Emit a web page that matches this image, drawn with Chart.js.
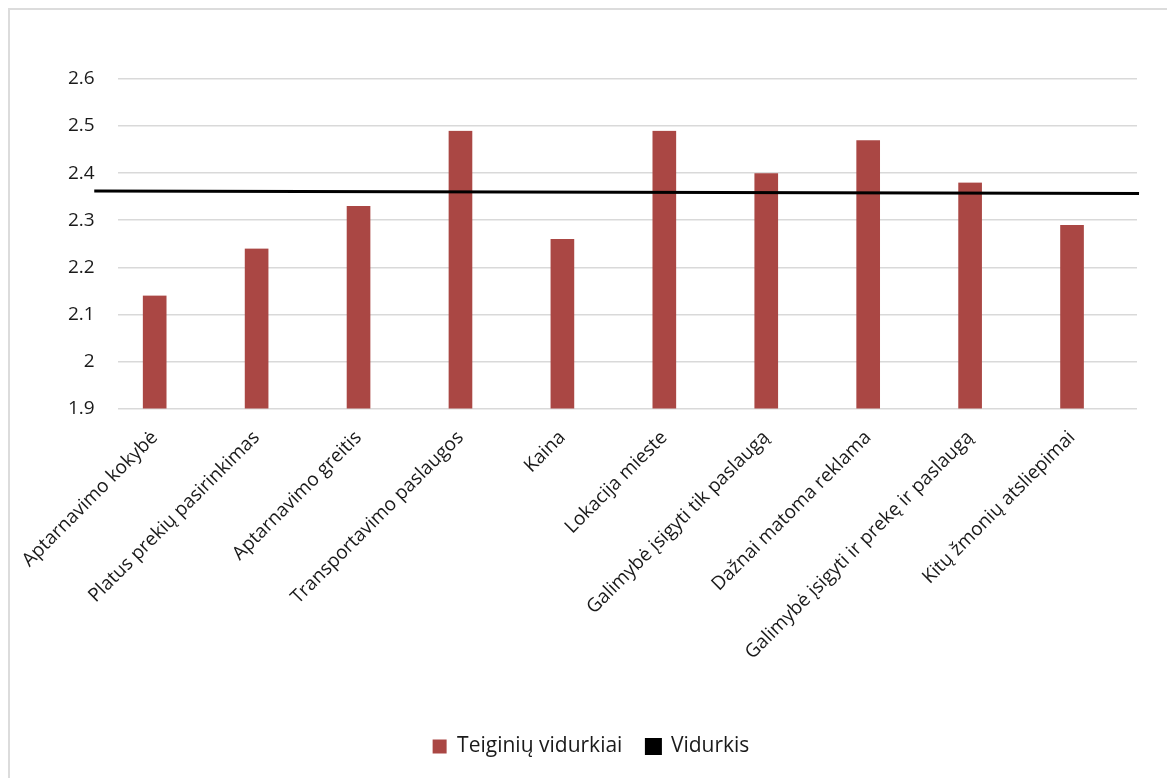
<!DOCTYPE html>
<html>
<head>
<meta charset="utf-8">
<script src="https://cdn.jsdelivr.net/npm/chart.js@4"></script>
<style>
    body { margin: 0; background: #fff; }
    #wrap {
        position: absolute; left: 8px; top: 8px;
        border-left: 2px solid #dcdcdc; border-top: 2px solid #dcdcdc;
    }
</style>
</head>
<body>
<div id="wrap"><canvas id="my-chart" width="1157" height="768"></canvas></div>
<script>
// ======== Chart data ========
const categories = [
    "Aptarnavimo kokybė",
    "Platus prekių pasirinkimas",
    "Aptarnavimo greitis",
    "Transportavimo paslaugos",
    "Kaina",
    "Lokacija mieste",
    "Galimybė įsigyti tik paslaugą",
    "Dažnai matoma reklama",
    "Galimybė įsigyti ir prekę ir paslaugą",
    "Kitų žmonių atsliepimai"
]
const barValues = [2.14, 2.24, 2.33, 2.49, 2.26, 2.49, 2.40, 2.47, 2.38, 2.29]
// empty second series, keeps the bars left of the category centre like the original
const emptySlot = [null, null, null, null, null, null, null, null, null, null]

// average line, start and end (x in category index units)
const avgX = [-0.73, 9.52]
const avgY = [2.362, 2.357]

const yTicks = [1.9, 2, 2.1, 2.2, 2.3, 2.4, 2.5, 2.6]

const FONT = "'Open Sans', sans-serif"

// bar look shared by both bar series
const barStyle = {
    barThickness: 28,
    borderWidth: { left: 2.5, right: 2.5, top: 0, bottom: 0 },
    borderColor: 'rgba(0,0,0,0)',
    borderSkipped: false
}

// Function builds the chart
const MakeChart = () => {
    let ctx = document.getElementById('my-chart').getContext("2d")
    return new Chart(ctx, {
        type: 'bar',
        data: {
            datasets: [{
                label: 'Teiginių vidurkiai',
                data: barValues.map((v, i) => ({ x: i, y: v })),
                backgroundColor: '#aa4744',
                ...barStyle,
                order: 2
            },
            {
                label: '',
                data: emptySlot.map((v, i) => ({ x: i, y: v })),
                ...barStyle,
                order: 3
            },
            {
                type: 'line',
                label: 'Vidurkis',
                data: avgX.map((x, i) => ({ x: x, y: avgY[i] })),
                borderColor: '#000',
                backgroundColor: '#000',
                borderWidth: 3,
                pointRadius: 0,
                clip: false,
                order: 1
            }]
        },
        options: {
            responsive: false,
            animation: false,
            layout: { padding: { top: 69, left: 35, right: 30, bottom: 11 } },
            plugins: {
                tooltip: { enabled: false },
                legend: {
                    position: 'bottom',
                    labels: {
                        font: { family: FONT, size: 21 },
                        color: '#1a1a1a',
                        boxWidth: 14,
                        boxHeight: 14,
                        padding: 24,
                        filter: item => item.text !== '',
                        sort: (a, b) => a.datasetIndex - b.datasetIndex
                    }
                }
            },
            scales: {
                x: {
                    type: 'linear',
                    min: -0.5,
                    max: 9.5,
                    offset: false,
                    afterBuildTicks: axis => { axis.ticks = categories.map((c, i) => ({ value: i })) },
                    grid: { display: false },
                    border: { display: false },
                    afterFit: axis => { axis.height += 38 },
                    ticks: {
                        autoSkip: false,
                        minRotation: 45,
                        maxRotation: 45,
                        padding: 10,
                        labelOffset: -14,
                        color: '#1a1a1a',
                        font: { family: FONT, size: 19 },
                        callback: v => categories[v]
                    }
                },
                y: {
                    min: 1.9,
                    max: 2.6,
                    afterBuildTicks: axis => { axis.ticks = yTicks.map(v => ({ value: v })) },
                    grid: { color: '#d9d9d9', lineWidth: 1.5, drawTicks: false },
                    border: { display: false },
                    ticks: {
                        padding: 23,
                        color: '#1a1a1a',
                        font: { family: FONT, size: 19 },
                        callback: v => String(Math.round(v * 10) / 10)
                    }
                }
            }
        }
    })
}

MakeChart()
</script>
</body>
</html>
